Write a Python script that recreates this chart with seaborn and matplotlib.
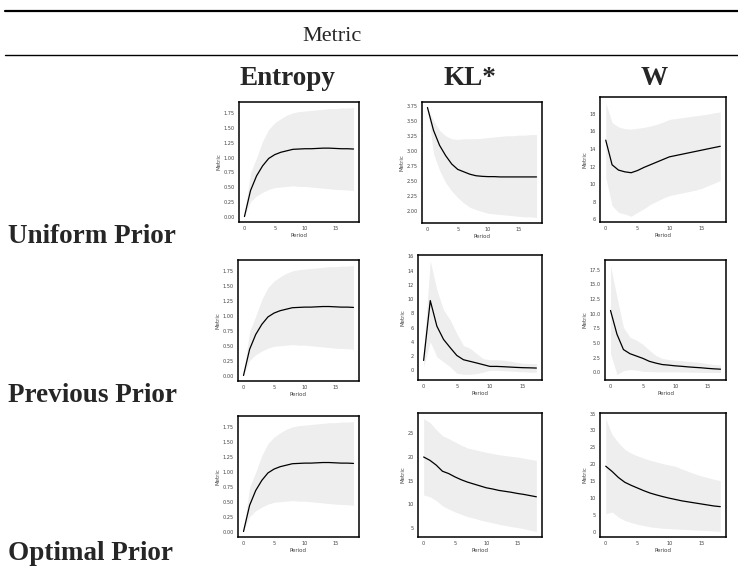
import numpy as np
import pandas as pd
import matplotlib
matplotlib.use("Agg")
import matplotlib.pyplot as plt
from matplotlib.ticker import MultipleLocator
import seaborn as sns

# ---------------- data ----------------
row_labels = ["Uniform Prior", "Previous Prior", "Optimal Prior"]
col_labels = ["Entropy", "KL*", "W"]
header = "Metric"

periods_18 = list(range(19))
periods_17 = list(range(18))

entropy_mean = [0.0, 0.44, 0.69, 0.86, 0.985, 1.05, 1.09, 1.115, 1.14, 1.145, 1.15, 1.15, 1.155, 1.16, 1.16, 1.155, 1.15, 1.15, 1.145]
entropy_upper = [0.05, 0.74, 1.0, 1.28, 1.48, 1.59, 1.66, 1.72, 1.76, 1.78, 1.79, 1.80, 1.81, 1.82, 1.83, 1.83, 1.84, 1.84, 1.85]
entropy_lower = [0.0, 0.25, 0.35, 0.41, 0.46, 0.49, 0.5, 0.51, 0.52, 0.51, 0.51, 0.5, 0.49, 0.48, 0.47, 0.46, 0.455, 0.45, 0.44]

kl_uniform_mean = [3.72, 3.34, 3.09, 2.92, 2.78, 2.69, 2.65, 2.61, 2.585, 2.575, 2.57, 2.57, 2.565, 2.565, 2.565, 2.565, 2.565, 2.565, 2.565]
kl_uniform_upper = [3.72, 3.5, 3.34, 3.25, 3.2, 3.19, 3.2, 3.2, 3.2, 3.21, 3.22, 3.23, 3.24, 3.25, 3.25, 3.26, 3.26, 3.27, 3.27]
kl_uniform_lower = [3.72, 2.95, 2.67, 2.47, 2.33, 2.22, 2.13, 2.06, 2.02, 1.99, 1.96, 1.95, 1.94, 1.93, 1.92, 1.91, 1.9, 1.9, 1.89]

w_uniform_mean = [15.0, 12.2, 11.6, 11.4, 11.3, 11.55, 11.9, 12.2, 12.5, 12.8, 13.1, 13.25, 13.4, 13.55, 13.7, 13.85, 14.0, 14.15, 14.3]
w_uniform_upper = [19.25, 17.0, 16.5, 16.3, 16.25, 16.35, 16.45, 16.6, 16.8, 17.05, 17.35, 17.45, 17.55, 17.65, 17.75, 17.85, 17.95, 18.1, 18.2]
w_uniform_lower = [10.75, 7.55, 6.8, 6.6, 6.35, 6.8, 7.2, 7.7, 8.05, 8.4, 8.7, 8.85, 9.0, 9.15, 9.3, 9.5, 9.8, 10.1, 10.4]

kl_previous_mean = [1.4, 9.8, 6.2, 4.35, 3.2, 2.1, 1.5, 1.27, 1.04, 0.8, 0.56, 0.56, 0.52, 0.47, 0.42, 0.38, 0.36, 0.33]
kl_previous_upper = [2.8, 15.4, 11.3, 8.5, 7.1, 5.2, 3.5, 3.1, 2.35, 1.65, 1.5, 1.5, 1.45, 1.3, 1.15, 1.0, 0.97, 0.95]
kl_previous_lower = [0.5, 4.0, 1.9, 1.2, 0.5, -0.4, -0.55, -0.55, -0.45, -0.25, 0.0, 0.0, -0.05, -0.1, -0.15, -0.2, -0.25, -0.25]

w_previous_mean = [10.55, 6.5, 3.9, 3.2, 2.8, 2.4, 1.9, 1.6, 1.35, 1.25, 1.13, 1.05, 0.95, 0.87, 0.8, 0.7, 0.62, 0.56]
w_previous_upper = [18.2, 12.8, 7.7, 6.0, 5.5, 4.8, 3.8, 2.9, 2.4, 2.2, 2.1, 2.0, 1.9, 1.8, 1.7, 1.5, 1.35, 1.25]
w_previous_lower = [3.2, -0.35, 0.3, 0.5, 0.4, 0.2, 0.15, 0.1, 0.1, 0.1, 0.1, 0.08, 0.06, 0.04, 0.02, 0.0, 0.0, 0.0]

kl_optimal_mean = [20.0, 19.3, 18.3, 17.0, 16.5, 15.8, 15.2, 14.7, 14.3, 13.9, 13.5, 13.25, 12.95, 12.75, 12.55, 12.3, 12.1, 11.85, 11.6]
kl_optimal_upper = [28.1, 27.3, 25.8, 24.5, 23.9, 23.2, 22.5, 21.9, 21.6, 21.3, 21.0, 20.75, 20.5, 20.3, 20.15, 20.0, 19.75, 19.5, 19.3]
kl_optimal_lower = [12.0, 11.6, 10.8, 9.7, 9.0, 8.4, 7.9, 7.4, 7.1, 6.7, 6.4, 6.1, 5.8, 5.55, 5.3, 5.1, 4.85, 4.55, 4.3]

w_optimal_mean = [19.45, 17.9, 16.1, 14.7, 13.8, 13.0, 12.2, 11.5, 10.95, 10.45, 10.0, 9.6, 9.2, 8.9, 8.6, 8.3, 8.0, 7.7, 7.5]
w_optimal_upper = [33.5, 28.8, 26.4, 24.4, 23.3, 22.5, 21.8, 21.2, 20.7, 20.2, 19.8, 19.4, 18.6, 17.9, 17.2, 16.6, 16.1, 15.6, 15.2]
w_optimal_lower = [5.4, 5.9, 4.4, 3.4, 2.8, 2.25, 1.9, 1.5, 1.3, 1.1, 1.0, 0.9, 0.8, 0.7, 0.6, 0.5, 0.4, 0.3, 0.2]

y_steps = [[0.25, 0.25, 2], [0.25, 2, 2.5], [0.25, 5, 5]]

panels = [
    [(periods_18, entropy_mean, entropy_lower, entropy_upper),
     (periods_18, kl_uniform_mean, kl_uniform_lower, kl_uniform_upper),
     (periods_18, w_uniform_mean, w_uniform_lower, w_uniform_upper)],
    [(periods_18, entropy_mean, entropy_lower, entropy_upper),
     (periods_17, kl_previous_mean, kl_previous_lower, kl_previous_upper),
     (periods_17, w_previous_mean, w_previous_lower, w_previous_upper)],
    [(periods_18, entropy_mean, entropy_lower, entropy_upper),
     (periods_18, kl_optimal_mean, kl_optimal_lower, kl_optimal_upper),
     (periods_18, w_optimal_mean, w_optimal_lower, w_optimal_upper)],
]

# axes boxes in pixels: (left, top, right, bottom)
boxes = [
    [(239, 102, 359, 222), (422, 102, 542, 223), (600, 97, 726, 222)],
    [(238, 260, 359, 381), (418, 255, 542, 380), (605, 260, 726, 380)],
    [(238, 416, 359, 537), (418, 413, 542, 537), (600, 413, 726, 537)],
]

W, H = 738, 569
sns.set_style("white")
fig = plt.figure(figsize=(W / 100, H / 100), dpi=100)

serif = ["Liberation Serif", "DejaVu Serif"]

for r in range(3):
    for c in range(3):
        per, mean, lo, hi = panels[r][c]
        rows = []
        for p, m, l, h in zip(per, mean, lo, hi):
            rows += [(p, l), (p, m), (p, h)]
        df = pd.DataFrame(rows, columns=["Period", "Metric"])
        L, T, R, B = boxes[r][c]
        ax = fig.add_axes([L / W, 1 - B / H, (R - L) / W, (B - T) / H])
        sns.lineplot(data=df, x="Period", y="Metric", estimator="median",
                     errorbar=("pi", 100), color="black", linewidth=0.9,
                     err_kws={"alpha": 0.065, "linewidth": 0}, ax=ax)
        ax.xaxis.set_major_locator(MultipleLocator(5))
        ax.yaxis.set_major_locator(MultipleLocator(y_steps[r][c]))
        ax.tick_params(labelsize=3.6, length=1.8, width=0.5, pad=1.2,
                       colors="#333333", labelcolor="#444444")
        ax.set_xlabel("Period", fontsize=4.0, labelpad=1.0, color="#444444")
        ax.set_ylabel("Metric", fontsize=4.0, labelpad=1.5, color="#444444")
        for s in ax.spines.values():
            s.set_visible(True)
            s.set_color("black")
            s.set_linewidth(1.1)

# table decoration
fig.add_artist(plt.Line2D([5 / W, 1], [1 - 11 / H, 1 - 11 / H], color="black", linewidth=1.6))
fig.add_artist(plt.Line2D([5 / W, 1], [1 - 54.5 / H, 1 - 54.5 / H], color="black", linewidth=1.0))
fig.text(332 / W, 1 - 41 / H, header, ha="center", va="baseline",
         fontsize=16, family=serif)
col_x = [287, 470, 654]
for x, lab in zip(col_x, col_labels):
    fig.text(x / W, 1 - 85 / H, lab, ha="center", va="baseline",
             fontsize=19.5, fontweight="bold", family=serif)
row_y = [243, 402, 560]
for y, lab in zip(row_y, row_labels):
    fig.text(8 / W, 1 - y / H, lab, ha="left", va="baseline",
             fontsize=19.5, fontweight="bold", family=serif)

fig.savefig("out.png", dpi=100)
